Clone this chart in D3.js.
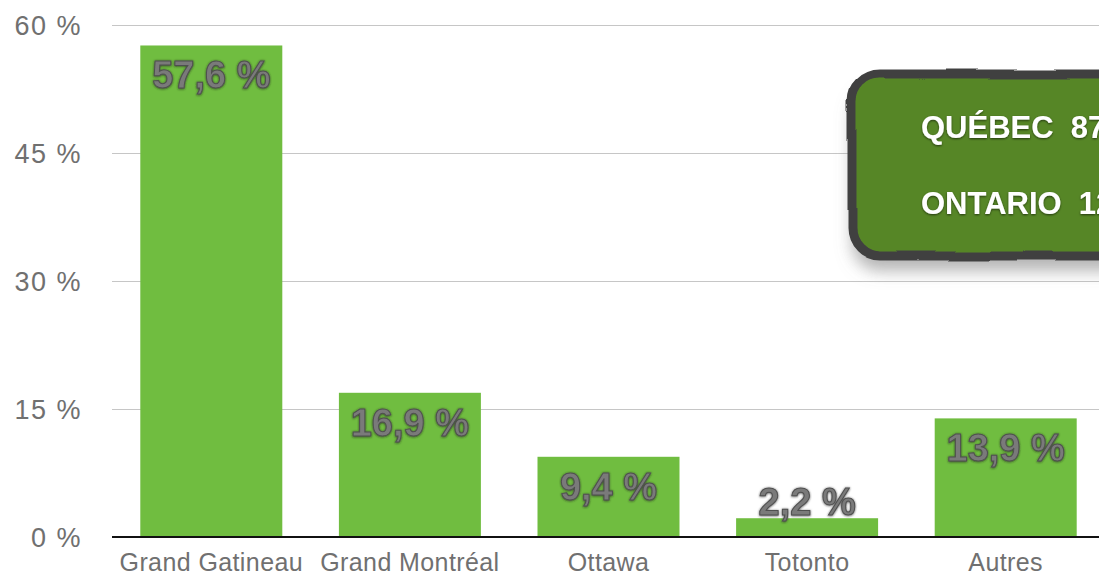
<!DOCTYPE html>
<html>
<head>
<meta charset="utf-8">
<script src="https://cdn.jsdelivr.net/npm/d3@7"></script>
<style>
  body { margin: 0; background: #fff; }
  svg { display: block; font-family: "Liberation Sans", Arial, sans-serif; }
</style>
</head>
<body>
<div id="chart"></div>
<script>
// Données du graphique
const categories = ["Grand Gatineau", "Grand Montréal", "Ottawa", "Totonto", "Autres"];
const values = [57.6, 16.9, 9.4, 2.2, 13.9];
const yTicks = [0, 15, 30, 45, 60];
const calloutLines = ["QUÉBEC  87,5 %", "ONTARIO  12,5 %"];

const fullWidth = 1099, fullHeight = 577;
const margin = { top: 25, left: 112, bottom: 40 };
const plotBottom = fullHeight - margin.bottom; // 537

const svg = d3.select("#chart").append("svg")
    .attr("width", fullWidth)
    .attr("height", fullHeight);

const defs = svg.append("defs");

// ombre du texte des valeurs
const lblShadow = defs.append("filter").attr("id", "lblShadow")
    .attr("x", "-10%").attr("y", "-20%").attr("width", "120%").attr("height", "140%");
lblShadow.append("feDropShadow")
    .attr("dx", 0).attr("dy", 0.5).attr("stdDeviation", 1)
    .attr("flood-color", "#222").attr("flood-opacity", 0.8);

// ombre de l'encadré
const boxShadow = defs.append("filter").attr("id", "boxShadow")
    .attr("x", "-20%").attr("y", "-20%").attr("width", "140%").attr("height", "160%");
boxShadow.append("feDropShadow")
    .attr("dx", 0).attr("dy", 15).attr("stdDeviation", 8)
    .attr("flood-color", "#777").attr("flood-opacity", 0.55);

const txtShadow = defs.append("filter").attr("id", "txtShadow");
txtShadow.append("feDropShadow")
    .attr("dx", 0).attr("dy", 1).attr("stdDeviation", 1)
    .attr("flood-color", "#000").attr("flood-opacity", 0.6);

// bord irrégulier
const rough = defs.append("filter").attr("id", "rough")
    .attr("x", "-5%").attr("y", "-5%").attr("width", "110%").attr("height", "110%");
rough.append("feTurbulence")
    .attr("type", "fractalNoise").attr("baseFrequency", 0.015)
    .attr("numOctaves", 1).attr("seed", 3).attr("result", "noise");
rough.append("feDisplacementMap")
    .attr("in", "SourceGraphic").attr("in2", "noise")
    .attr("scale", 6).attr("xChannelSelector", "R").attr("yChannelSelector", "G");

// Échelles
const x = d3.scaleBand()
    .domain(categories)
    .range([margin.left, margin.left + 5 * 198.6])
    .paddingInner(0.285)
    .paddingOuter(0.1425);

const y = d3.scaleLinear()
    .domain([0, 60])
    .range([plotBottom, margin.top]);

// Grille horizontale
svg.append("g")
    .attr("transform", `translate(${margin.left},0)`)
    .call(d3.axisLeft(y).tickValues(yTicks).tickSize(-(fullWidth - margin.left)).tickFormat(""))
    .call(g => g.select(".domain").remove())
    .selectAll("line")
    .attr("stroke", "#c6c6c6")
    .attr("stroke-width", 1);

// Étiquettes de l'axe Y
svg.append("g")
    .selectAll("text")
    .data(yTicks)
    .enter()
    .append("text")
    .attr("x", 82)
    .attr("y", d => y(d))
    .attr("dy", "0.36em")
    .attr("text-anchor", "end")
    .style("font-size", "27px")
    .style("letter-spacing", "1.5px")
    .style("fill", "#707070")
    .text(d => `${d} %`);

// Barres
svg.selectAll(".bar")
    .data(values)
    .enter()
    .append("rect")
    .attr("class", "bar")
    .attr("x", (d, i) => x(categories[i]))
    .attr("y", d => y(d))
    .attr("width", x.bandwidth())
    .attr("height", d => plotBottom - y(d))
    .attr("fill", "#70bd40");

// Axe X (ligne noire)
svg.append("line")
    .attr("x1", margin.left).attr("x2", fullWidth)
    .attr("y1", plotBottom).attr("y2", plotBottom)
    .attr("stroke", "#111")
    .attr("stroke-width", 2);

// Étiquettes de l'axe X
svg.append("g")
    .selectAll("text")
    .data(categories)
    .enter()
    .append("text")
    .attr("x", d => x(d) + x.bandwidth() / 2)
    .attr("y", 571)
    .attr("text-anchor", "middle")
    .style("font-size", "25px")
    .style("letter-spacing", "0.4px")
    .style("fill", "#707070")
    .text(d => d);

// Valeurs sur les barres (au-dessus si la barre est trop courte)
svg.selectAll(".label")
    .data(values)
    .enter()
    .append("text")
    .attr("class", "label")
    .attr("x", (d, i) => x(categories[i]) + x.bandwidth() / 2)
    .attr("y", d => (plotBottom - y(d) > 50) ? y(d) + 43 : y(d) - 3)
    .attr("text-anchor", "middle")
    .attr("filter", "url(#lblShadow)")
    .style("font-size", "38px")
    .style("font-weight", "bold")
    .style("fill", "#7a7a7a")
    .style("stroke", "#505050")
    .style("stroke-width", 1)
    .text(d => `${d3.format(".1f")(d).replace(".", ",")} %`);

// Encadré Québec / Ontario
const box = svg.append("g");
box.append("rect")
    .attr("x", 852).attr("y", 74)
    .attr("width", 320).attr("height", 182)
    .attr("rx", 28)
    .attr("fill", "#568627")
    .attr("filter", "url(#boxShadow)");
box.append("rect")
    .attr("x", 852).attr("y", 74)
    .attr("width", 320).attr("height", 182)
    .attr("rx", 28)
    .attr("fill", "none")
    .attr("stroke", "#404040")
    .attr("stroke-width", 9)
    .attr("filter", "url(#rough)");

box.selectAll("text")
    .data(calloutLines)
    .enter()
    .append("text")
    .attr("x", 921)
    .attr("y", (d, i) => 138 + i * 76)
    .attr("filter", "url(#txtShadow)")
    .style("font-size", "31px")
    .style("font-weight", "bold")
    .style("fill", "#fff")
    .style("white-space", "pre")
    .text(d => d);
</script>
</body>
</html>
